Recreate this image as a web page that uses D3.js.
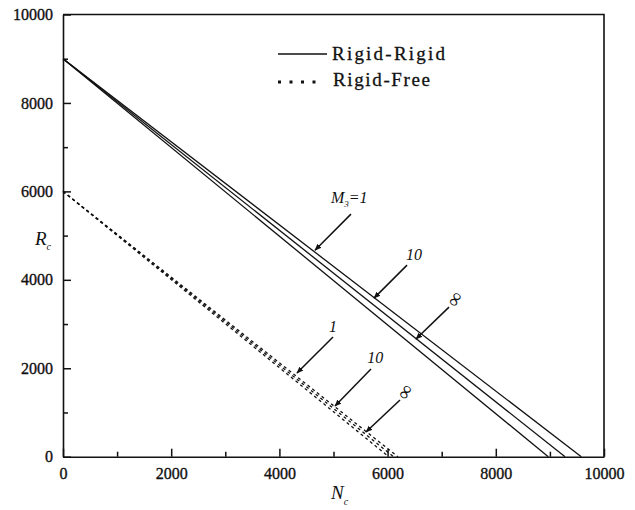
<!DOCTYPE html>
<html>
<head>
<meta charset="utf-8">
<script src="https://d3js.org/d3.v7.min.js"></script>
<style>
  body { margin: 0; background: #fff; }
  svg, svg text { font-family: "Liberation Serif", "Times New Roman", Times, serif; }
</style>
</head>
<body>
<script>
// x-axis intercepts (N_c at R_c = 0), M3 = 1, 10, inf
const rrLabels = ["1", "10", "inf"];
const rrN = [[0, 9580], [0, 9280], [0, 8970]];
const rrR = [9000, 0];

const rfN = [[0, 6190], [0, 6110], [0, 6020]];
const rfR = [6000, 0];

const xTicks = [0, 2000, 4000, 6000, 8000, 10000];
const yTicks = [0, 2000, 4000, 6000, 8000, 10000];
const minorTicks = [1000, 3000, 5000, 7000, 9000];

// arrow annotations, in data units [N, R]
const arrows = [
  { tail: [5323, 5485], tip: [4658, 4670] },
  { tail: [6359, 4332], tip: [5749, 3586] },
  { tail: [7135, 3383], tip: [6525, 2660] },
  { tail: [4991, 2705], tip: [4325, 1891] },
  { tail: [5693, 1982], tip: [5028, 1146] },
  { tail: [6229, 1281], tip: [5601, 558] }
];
const notes = [
  { at: [5290, 5730], text: "M3=1" },
  { at: [6490, 4445], text: "10" },
  { at: [7250, 3560], text: "\u221E" },
  { at: [4990, 2820], text: "1" },
  { at: [5770, 2117], text: "10" },
  { at: [6330, 1460], text: "\u221E" }
];

const width = 635, height = 510;
const x = d3.scaleLinear().domain([0, 10000]).range([63, 604]);
const y = d3.scaleLinear().domain([0, 10000]).range([456.7, 14.5]);
const serif = "'Liberation Serif', 'Times New Roman', Times, serif";

const svg = d3.select("body").append("svg")
    .attr("width", width)
    .attr("height", height)
    .attr("font-family", serif);

const ink = "#111";

svg.append("defs").append("marker")
    .attr("id", "head")
    .attr("viewBox", "0 0 10 10")
    .attr("refX", 9).attr("refY", 5)
    .attr("markerWidth", 7).attr("markerHeight", 7)
    .attr("markerUnits", "userSpaceOnUse")
    .attr("orient", "auto")
  .append("path")
    .attr("d", "M0,1L10,5L0,9Z")
    .attr("fill", ink);

// frame top/right
svg.append("path")
    .attr("d", `M${x(0)},${y(10000)}H${x(10000)}V${y(0)}`)
    .attr("fill", "none")
    .attr("stroke", ink)
    .attr("stroke-width", 1.6);

// axes
const gx = svg.append("g")
    .attr("transform", `translate(0,${y(0)})`)
    .call(d3.axisBottom(x).tickValues(xTicks).tickSizeInner(-8).tickSizeOuter(0).tickPadding(11).tickFormat(d3.format("d")));
const gxm = svg.append("g")
    .attr("transform", `translate(0,${y(0)})`)
    .call(d3.axisBottom(x).tickValues(minorTicks).tickSizeInner(-5).tickSizeOuter(0).tickFormat(""));
const gy = svg.append("g")
    .attr("transform", `translate(${x(0)},0)`)
    .call(d3.axisLeft(y).tickValues(yTicks).tickSizeInner(-8).tickSizeOuter(0).tickPadding(10).tickFormat(d3.format("d")));
const gym = svg.append("g")
    .attr("transform", `translate(${x(0)},0)`)
    .call(d3.axisLeft(y).tickValues(minorTicks).tickSizeInner(-5).tickSizeOuter(0).tickFormat(""));

[gx, gxm, gy, gym].forEach(g => {
  g.attr("font-family", serif).attr("font-size", 16);
  g.select(".domain").attr("stroke", ink).attr("stroke-width", 1.6);
  g.selectAll(".tick line").attr("stroke", ink).attr("stroke-width", 1.5);
  g.selectAll("text")
      .attr("fill", ink)
      .attr("stroke", ink)
      .attr("stroke-width", 0.35);
});
gym.select(".domain").remove();
gxm.select(".domain").remove();

// axis titles
const rt = svg.append("text")
    .attr("x", 35).attr("y", 245)
    .attr("fill", ink)
    .style("font-style", "italic")
    .style("font-size", "19px");
rt.append("tspan").text("R");
rt.append("tspan").attr("dy", 5).style("font-size", "10px").text("c");

const nt = svg.append("text")
    .attr("x", 331).attr("y", 499)
    .attr("fill", ink)
    .style("font-style", "italic")
    .style("font-size", "19px");
nt.append("tspan").text("N");
nt.append("tspan").attr("dy", 6).style("font-size", "10px").text("c");

// curves
const line = d3.line().x(d => x(d[0])).y(d => y(d[1]));

svg.append("g")
  .selectAll("path")
  .data(rrN)
  .join("path")
    .attr("d", n => line(n.map((v, i) => [v, rrR[i]])))
    .attr("fill", "none")
    .attr("stroke", ink)
    .attr("stroke-width", 1.3);

svg.append("g")
  .selectAll("path")
  .data(rfN)
  .join("path")
    .attr("d", n => line(n.map((v, i) => [v, rfR[i]])))
    .attr("fill", "none")
    .attr("stroke", ink)
    .attr("stroke-width", 1.3)
    .attr("stroke-dasharray", "3,3");

// arrows
svg.append("g")
  .selectAll("line")
  .data(arrows)
  .join("line")
    .attr("x1", d => x(d.tail[0])).attr("y1", d => y(d.tail[1]))
    .attr("x2", d => x(d.tip[0])).attr("y2", d => y(d.tip[1]))
    .attr("stroke", ink)
    .attr("stroke-width", 1.5)
    .attr("marker-end", "url(#head)");

// annotation labels
const nl = svg.append("g")
    .style("font-style", "italic")
    .style("font-size", "16px")
    .attr("fill", ink)
  .selectAll("text")
  .data(notes)
  .join("text")
    .attr("text-anchor", "middle")
    .attr("transform", d => d.text === "\u221E"
      ? `translate(${x(d.at[0])},${y(d.at[1])}) rotate(-60)`
      : `translate(${x(d.at[0])},${y(d.at[1])})`)
    .attr("dy", d => d.text === "\u221E" ? "0.3em" : 0)
    .style("font-size", d => d.text === "\u221E" ? "20px" : null)
    .style("font-style", d => d.text === "\u221E" ? "normal" : null);
nl.each(function(d) {
  const t = d3.select(this);
  if (d.text.startsWith("M3")) {
    t.append("tspan").text("M");
    t.append("tspan").attr("dy", 4).style("font-size", "9px").text("3");
    t.append("tspan").attr("dy", -4).text("=1");
  } else {
    t.text(d.text);
  }
});

// legend
const lg = svg.append("g");
lg.append("line")
    .attr("x1", 278).attr("x2", 327).attr("y1", 54).attr("y2", 54)
    .attr("stroke", ink).attr("stroke-width", 1.5);
lg.append("text")
    .attr("x", 332).attr("y", 60)
    .attr("fill", ink)
    .attr("stroke", ink).attr("stroke-width", 0.3)
    .style("font-size", "19px")
    .attr("textLength", 113)
    .attr("lengthAdjust", "spacing")
    .text("Rigid-Rigid");
lg.append("line")
    .attr("x1", 278).attr("x2", 316).attr("y1", 82).attr("y2", 82)
    .attr("stroke", ink).attr("stroke-width", 3)
    .attr("stroke-dasharray", "3,8.5");
lg.append("text")
    .attr("x", 333).attr("y", 86)
    .attr("fill", ink)
    .attr("stroke", ink).attr("stroke-width", 0.3)
    .style("font-size", "19px")
    .attr("textLength", 97)
    .attr("lengthAdjust", "spacing")
    .text("Rigid-Free");
</script>
</body>
</html>
